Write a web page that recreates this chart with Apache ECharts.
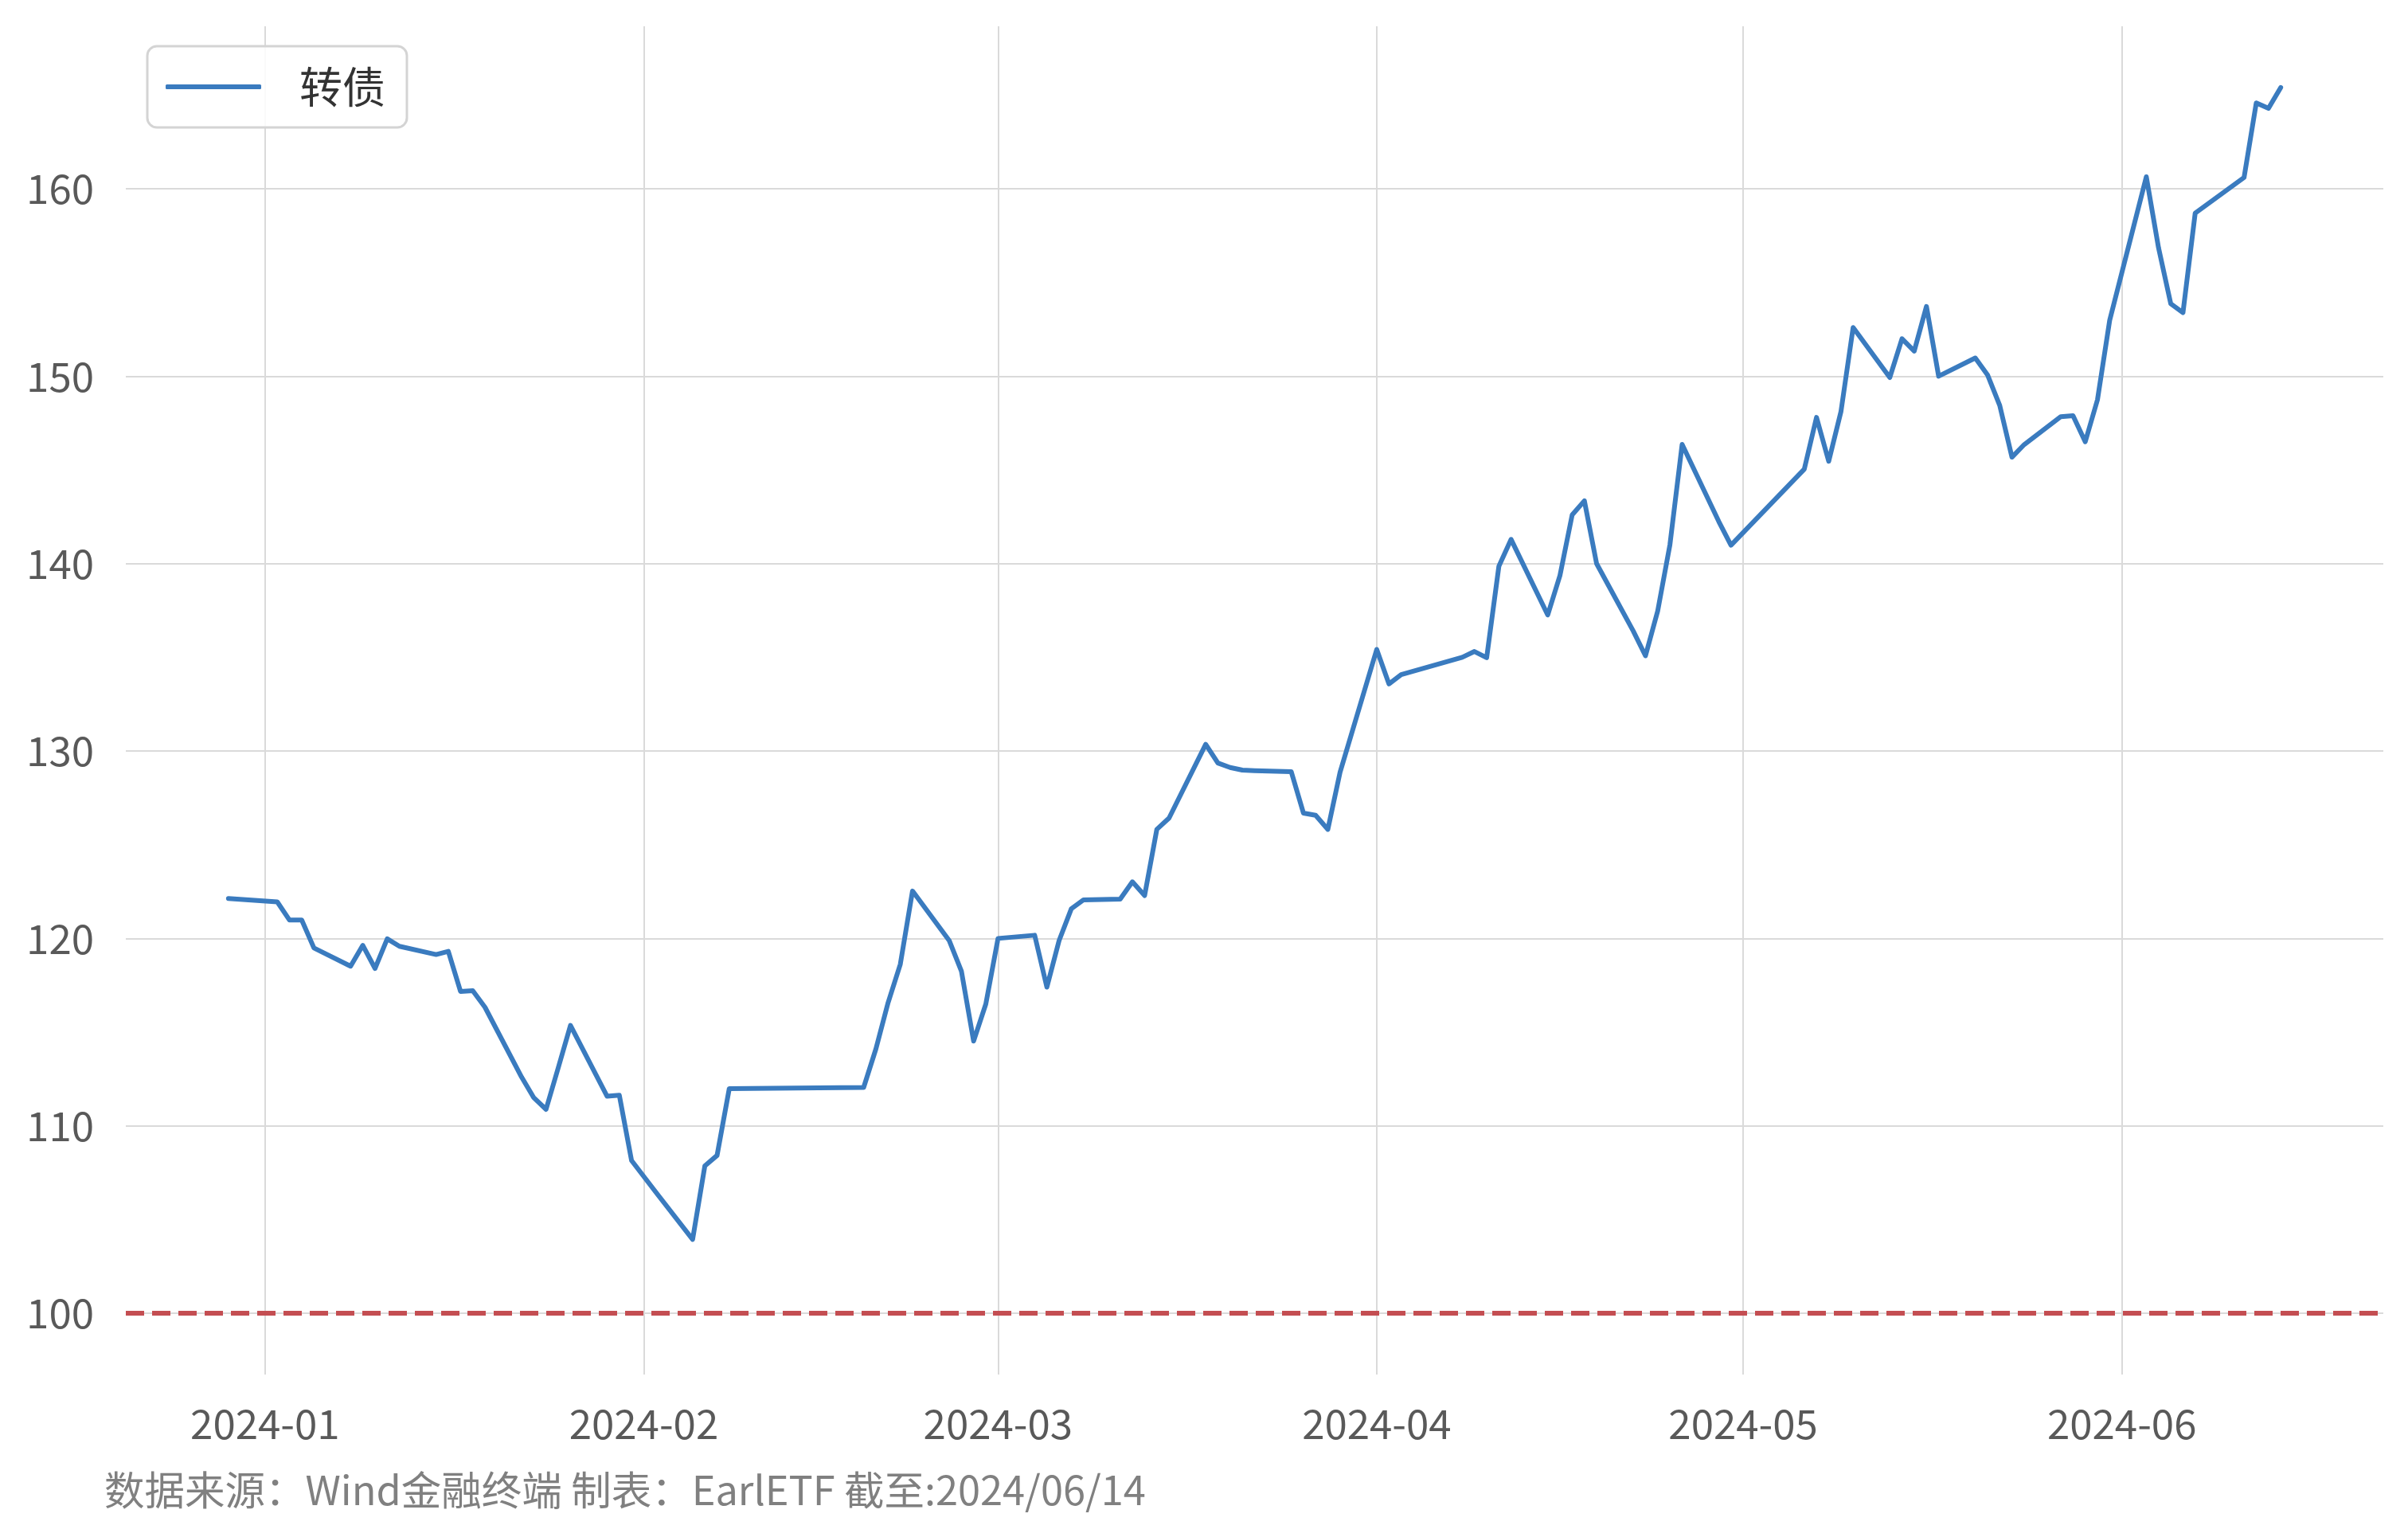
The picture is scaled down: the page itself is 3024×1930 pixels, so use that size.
<!DOCTYPE html>
<html>
<head>
<meta charset="utf-8">
<script src="https://cdn.jsdelivr.net/npm/echarts@6/dist/echarts.min.js"></script>
<style>
  html, body { margin: 0; padding: 0; background: #fff; }
  #main { width: 3024px; height: 1930px; }
</style>
</head>
<body>
<div id="main"></div>
<script>
// 交易日
var dates = [
  '2023-12-29',
  '2024-01-02', '2024-01-03', '2024-01-04', '2024-01-05',
  '2024-01-08', '2024-01-09', '2024-01-10', '2024-01-11', '2024-01-12',
  '2024-01-15', '2024-01-16', '2024-01-17', '2024-01-18', '2024-01-19',
  '2024-01-22', '2024-01-23', '2024-01-24', '2024-01-25', '2024-01-26',
  '2024-01-29', '2024-01-30', '2024-01-31', '2024-02-01', '2024-02-02',
  '2024-02-05', '2024-02-06', '2024-02-07', '2024-02-08',
  '2024-02-19', '2024-02-20', '2024-02-21', '2024-02-22', '2024-02-23',
  '2024-02-26', '2024-02-27', '2024-02-28', '2024-02-29', '2024-03-01',
  '2024-03-04', '2024-03-05', '2024-03-06', '2024-03-07', '2024-03-08',
  '2024-03-11', '2024-03-12', '2024-03-13', '2024-03-14', '2024-03-15',
  '2024-03-18', '2024-03-19', '2024-03-20', '2024-03-21', '2024-03-22',
  '2024-03-25', '2024-03-26', '2024-03-27', '2024-03-28', '2024-03-29',
  '2024-04-01', '2024-04-02', '2024-04-03',
  '2024-04-08', '2024-04-09', '2024-04-10', '2024-04-11', '2024-04-12',
  '2024-04-15', '2024-04-16', '2024-04-17', '2024-04-18', '2024-04-19',
  '2024-04-22', '2024-04-23', '2024-04-24', '2024-04-25', '2024-04-26',
  '2024-04-29', '2024-04-30',
  '2024-05-06', '2024-05-07', '2024-05-08', '2024-05-09', '2024-05-10',
  '2024-05-13', '2024-05-14', '2024-05-15', '2024-05-16', '2024-05-17',
  '2024-05-20', '2024-05-21', '2024-05-22', '2024-05-23', '2024-05-24',
  '2024-05-27', '2024-05-28', '2024-05-29', '2024-05-30', '2024-05-31',
  '2024-06-03', '2024-06-04', '2024-06-05', '2024-06-06', '2024-06-07',
  '2024-06-11', '2024-06-12', '2024-06-13', '2024-06-14'
];

// 转债净值
var bondValues = [
  122.13,
  121.95, 120.98, 120.98, 119.49,
  118.52, 119.63, 118.40, 119.98, 119.58,
  119.14, 119.31, 117.17, 117.21, 116.33,
  112.60, 111.50, 110.88, 113.10, 115.36,
  111.58, 111.63, 108.15, 107.30, 106.45,
  103.94, 107.86, 108.42, 111.99,
  112.05, 114.10, 116.57, 118.62, 122.53,
  119.89, 118.26, 114.52, 116.50, 120.00,
  120.17, 117.40, 119.89, 121.58, 122.06,
  122.10, 123.02, 122.29, 125.82, 126.42,
  130.36, 129.36, 129.12, 128.98, 128.95,
  128.90, 126.69, 126.57, 125.82, 128.87,
  135.42, 133.58, 134.08,
  135.00, 135.31, 134.98, 139.86, 141.29,
  137.26, 139.37, 142.60, 143.35, 140.00,
  136.40, 135.08, 137.47, 141.00, 146.36,
  142.25, 140.98,
  145.04, 147.80, 145.46, 148.10, 152.60,
  149.93, 152.00, 151.34, 153.72, 150.00,
  150.97, 150.07, 148.44, 145.68, 146.35,
  147.84, 147.89, 146.50, 148.74, 152.98,
  160.64, 156.85, 153.87, 153.39, 158.70,
  160.60, 164.58, 164.29, 165.40
];

var yTicks = [100, 110, 120, 130, 140, 150, 160];
var baseLine = 100;

function toTime(s) {
  var p = s.split('-');
  return +new Date(+p[0], +p[1] - 1, +p[2]);
}

var DAY = 24 * 3600 * 1000;
var xMin = toTime(dates[0]) - 8.4 * DAY;
var xMax = toTime(dates[dates.length - 1]) + 8.4 * DAY;

var seriesData = dates.map(function (d, i) {
  return [toTime(d), bondValues[i]];
});

var myChart = echarts.init(document.getElementById('main'));

var option = {
  backgroundColor: '#ffffff',
  animation: false,
  grid: {
    left: 158,
    right: 31,
    top: 33,
    bottom: 204
  },
  legend: {
    left: 185,
    top: 58,
    data: ['转债'],
    icon: 'roundRect',
    itemWidth: 120,
    itemHeight: 6,
    padding: [24, 27, 24, 23],
    borderColor: '#d4d4d4',
    borderWidth: 3,
    borderRadius: 12,
    backgroundColor: 'rgba(255,255,255,0.85)',
    textStyle: {
      fontFamily: 'Noto Sans CJK SC',
      fontSize: 54,
      lineHeight: 54,
      color: '#333333',
      padding: [0, 0, 0, 43]
    }
  },
  xAxis: {
    type: 'time',
    min: xMin,
    max: xMax,
    splitNumber: 6,
    minInterval: 28 * DAY,
    maxInterval: 31 * DAY,
    axisLine: { show: false },
    axisTick: { show: false },
    axisLabel: {
      fontFamily: 'Noto Sans CJK SC',
      fontSize: 51,
      color: '#595959',
      margin: 36,
      showMinLabel: false,
      showMaxLabel: false,
      formatter: function (v) {
        var d = new Date(v);
        var m = d.getMonth() + 1;
        return d.getFullYear() + '-' + (m < 10 ? '0' + m : m);
      }
    },
    splitLine: {
      show: true,
      showMinLine: false,
      showMaxLine: false,
      lineStyle: { color: '#dadada', width: 2 }
    }
  },
  yAxis: {
    type: 'value',
    min: 96.73,
    max: 168.67,
    axisLine: { show: false },
    axisTick: { show: false, customValues: yTicks },
    axisLabel: {
      customValues: yTicks,
      fontFamily: 'Noto Sans CJK SC',
      fontSize: 51,
      color: '#595959',
      margin: 40
    },
    splitLine: {
      show: true,
      lineStyle: { color: '#dadada', width: 2 }
    }
  },
  series: [{
    name: '转债',
    type: 'line',
    data: seriesData,
    symbol: 'none',
    color: '#3a7bbf',
    lineStyle: { color: '#3a7bbf', width: 6, cap: 'round', join: 'round' },
    markLine: {
      silent: true,
      symbol: 'none',
      label: { show: false },
      lineStyle: { color: '#c44e52', width: 6, type: [23, 10], cap: 'butt' },
      data: [{ yAxis: baseLine }]
    },
    z: 3
  }],
  graphic: [{
    type: 'text',
    left: 131,
    top: 1846,
    style: {
      text: '数据来源：Wind金融终端 制表：EarlETF 截至:2024/06/14',
      fontFamily: 'Noto Sans CJK SC',
      fontSize: 50.5,
      fill: '#808080'
    }
  }]
};

myChart.setOption(option);
</script>
</body>
</html>
